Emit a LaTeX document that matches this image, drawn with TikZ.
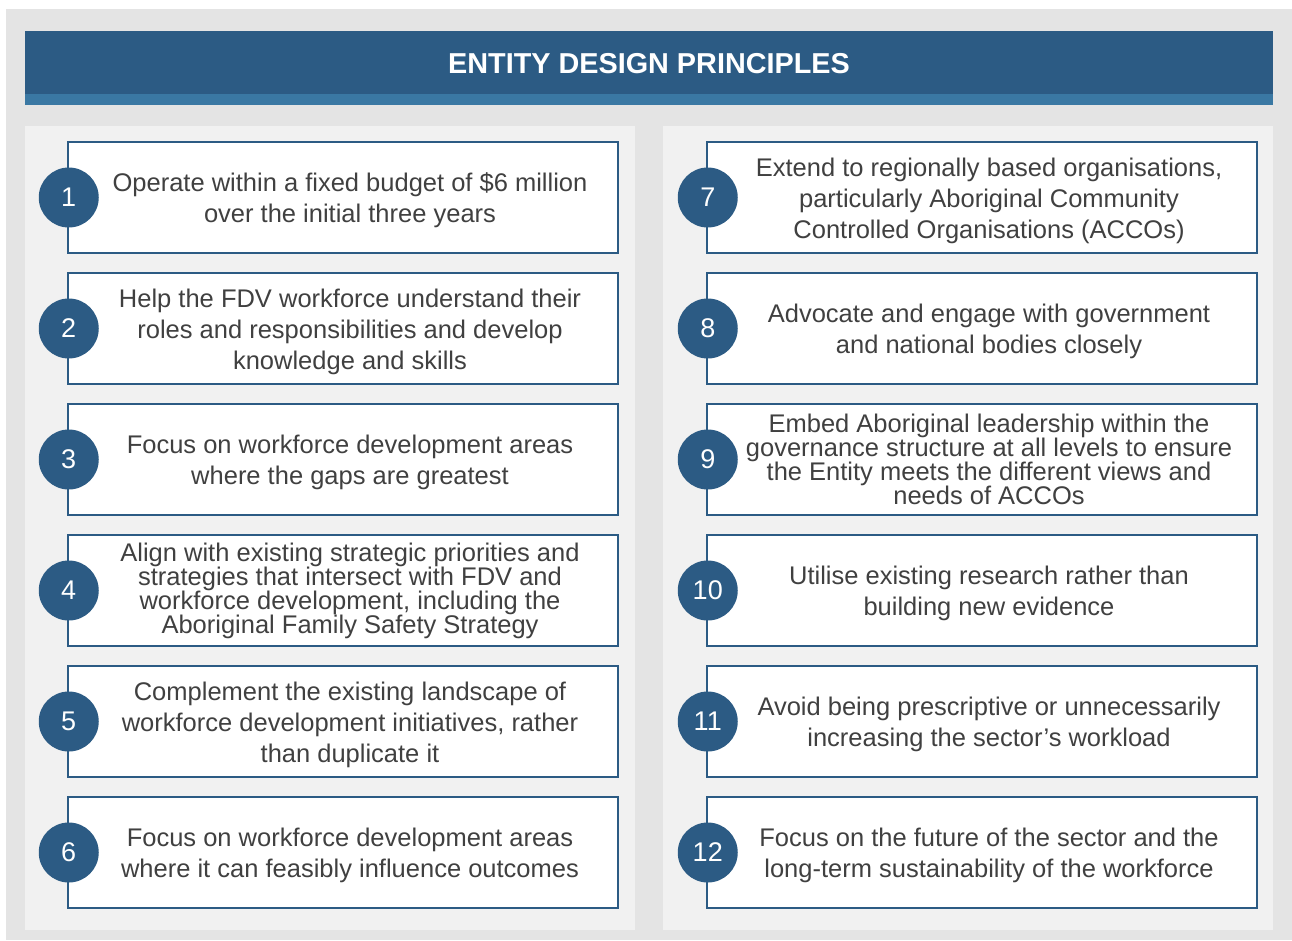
\documentclass[tikz,border=0pt]{standalone}
\usepackage{fontspec}
\setmainfont{Liberation Sans}
\definecolor{navy}{HTML}{2C5B84}
\definecolor{stripblue}{HTML}{3A78A3}
\definecolor{outergray}{HTML}{E4E4E4}
\definecolor{panelgray}{HTML}{F1F1F1}
\definecolor{bodytext}{HTML}{404040}
\tikzset{
  principle/.style={draw=navy, line width=2.5pt, fill=white, rectangle,
    minimum width=550pt, minimum height=111pt, inner sep=0pt},
  textbase/.style={align=center, text=bodytext, inner sep=0pt},
  ptext/.style={textbase, yshift=-3pt, font=\fontsize{25.5}{31}\selectfont},
  ptight/.style={textbase, font=\fontsize{25.5}{24}\selectfont},
  badge/.style={circle, fill=navy, minimum size=60pt, inner sep=0pt,
    text=white, font=\fontsize{27}{27}\selectfont},
  banner/.style={text=white, font=\bfseries\fontsize{28.8}{29}\selectfont}
}
\begin{document}
\begin{tikzpicture}[x=1pt,y=-1pt]
\useasboundingbox (0,0) rectangle (1292,940);
\fill[white] (0,0) rectangle (1292,940);
\fill[outergray] (6,9) rectangle (1292,940);
% header bar
\fill[navy] (25,31) rectangle (1273,94);
\fill[stripblue] (25,94) rectangle (1273,105);
\node[banner] (title) at (649,64) {ENTITY DESIGN PRINCIPLES};
% column panels
\fill[panelgray] (25,126) rectangle (635,930);
\fill[panelgray] (663,126) rectangle (1273,930);

% left column
\node[principle] (p1) at (343,197.5) {};
\node[ptext] (t1) at ([xshift=7pt]p1.center) {Operate within a fixed budget of \$6 million\\over the initial three years};
\node[badge] (n1) at ([xshift=2pt]p1.west) {1};

\node[principle] (p2) at (343,328.5) {};
\node[ptext] (t2) at ([xshift=7pt]p2.center) {Help the FDV workforce understand their\\roles and responsibilities and develop\\knowledge and skills};
\node[badge] (n2) at ([xshift=2pt]p2.west) {2};

\node[principle] (p3) at (343,459.5) {};
\node[ptext] (t3) at ([xshift=7pt]p3.center) {Focus on workforce development areas\\where the gaps are greatest};
\node[badge] (n3) at ([xshift=2pt]p3.west) {3};

\node[principle] (p4) at (343,590.5) {};
\node[ptight] (t4) at ([xshift=7pt]p4.center) {Align with existing strategic priorities and\\strategies that intersect with FDV and\\workforce development, including the\\Aboriginal Family Safety Strategy};
\node[badge] (n4) at ([xshift=2pt]p4.west) {4};

\node[principle] (p5) at (343,721.5) {};
\node[ptext] (t5) at ([xshift=7pt]p5.center) {Complement the existing landscape of\\workforce development initiatives, rather\\than duplicate it};
\node[badge] (n5) at ([xshift=2pt]p5.west) {5};

\node[principle] (p6) at (343,852.5) {};
\node[ptext] (t6) at ([xshift=7pt]p6.center) {Focus on workforce development areas\\where it can feasibly influence outcomes};
\node[badge] (n6) at ([xshift=2pt]p6.west) {6};

% right column
\node[principle] (p7) at (982,197.5) {};
\node[ptext] (t7) at ([xshift=7pt]p7.center) {Extend to regionally based organisations,\\particularly Aboriginal Community\\Controlled Organisations (ACCOs)};
\node[badge] (n7) at ([xshift=2pt]p7.west) {7};

\node[principle] (p8) at (982,328.5) {};
\node[ptext] (t8) at ([xshift=7pt]p8.center) {Advocate and engage with government\\and national bodies closely};
\node[badge] (n8) at ([xshift=2pt]p8.west) {8};

\node[principle] (p9) at (982,459.5) {};
\node[ptight] (t9) at ([xshift=7pt]p9.center) {Embed Aboriginal leadership within the\\governance structure at all levels to ensure\\the Entity meets the different views and\\needs of ACCOs};
\node[badge] (n9) at ([xshift=2pt]p9.west) {9};

\node[principle] (p10) at (982,590.5) {};
\node[ptext] (t10) at ([xshift=7pt]p10.center) {Utilise existing research rather than\\building new evidence};
\node[badge] (n10) at ([xshift=2pt]p10.west) {10};

\node[principle] (p11) at (982,721.5) {};
\node[ptext] (t11) at ([xshift=7pt]p11.center) {Avoid being prescriptive or unnecessarily\\increasing the sector’s workload};
\node[badge] (n11) at ([xshift=2pt]p11.west) {11};

\node[principle] (p12) at (982,852.5) {};
\node[ptext] (t12) at ([xshift=7pt]p12.center) {Focus on the future of the sector and the\\long-term sustainability of the workforce};
\node[badge] (n12) at ([xshift=2pt]p12.west) {12};
\end{tikzpicture}
\end{document}
